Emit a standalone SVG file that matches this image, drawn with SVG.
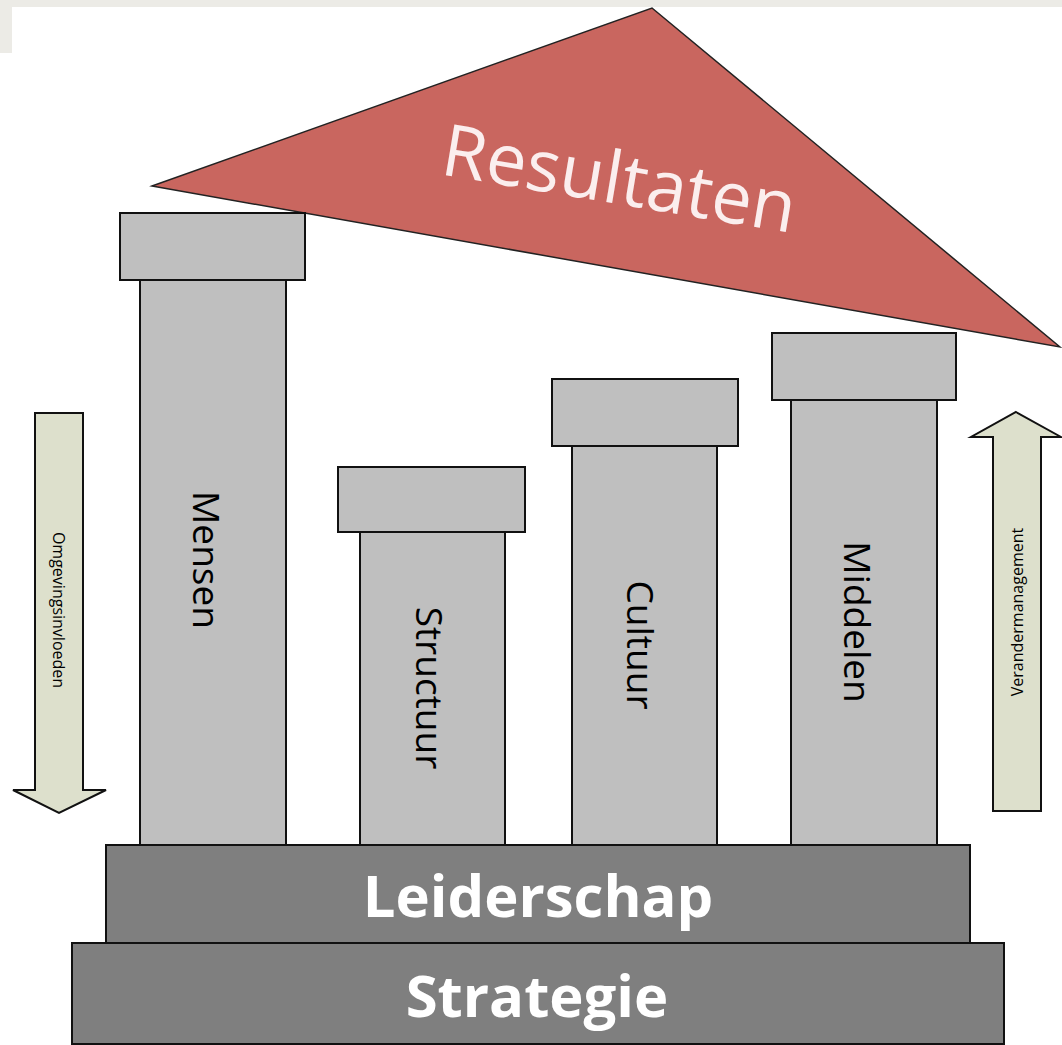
<svg xmlns="http://www.w3.org/2000/svg" width="1062" height="1045" viewBox="0 0 1062 1045">
  <style>
    .frame { fill: #ecebe6; }
    .col { fill: #bfbfbf; stroke: #111; stroke-width: 2; }
    .base { fill: #7f7f7f; stroke: #111; stroke-width: 2; }
    .arrow { fill: #dde0cc; stroke: #111; stroke-width: 2; stroke-linejoin: miter; }
    .roof { fill: #c9665f; stroke: #222; stroke-width: 1.5; stroke-linejoin: miter; }
    .lbl { font-family: "Open Sans", "Noto Sans", "Liberation Sans", sans-serif; fill: #000; text-anchor: middle; dominant-baseline: central; }
    .big { font-family: "Open Sans", "Noto Sans", "Liberation Sans", sans-serif; fill: #fff; font-weight: bold; text-anchor: middle; dominant-baseline: central; }
  </style>

  <rect width="1062" height="1045" fill="#fff"/>
  <rect class="frame" x="0" y="0" width="1062" height="7"/>
  <rect class="frame" x="0" y="0" width="12" height="53"/>

  <g id="roof">
    <polygon class="roof" points="152,186 652,8 1060,347"/>
    <text class="lbl" x="0" y="0" font-size="72" style="fill:#fbeeee" transform="translate(620,176) rotate(9.5)">Resultaten</text>
  </g>

  <g id="mensen">
    <rect class="col" x="140" y="280" width="146" height="565"/>
    <rect class="col" x="120" y="213" width="185" height="67"/>
    <text class="lbl" x="0" y="0" font-size="37" transform="translate(207,560) rotate(90)">Mensen</text>
  </g>

  <g id="structuur">
    <rect class="col" x="360" y="532" width="145" height="313"/>
    <rect class="col" x="338" y="467" width="187" height="65"/>
    <text class="lbl" x="0" y="0" font-size="37" transform="translate(430,688) rotate(90)">Structuur</text>
  </g>

  <g id="cultuur">
    <rect class="col" x="572" y="446" width="145" height="399"/>
    <rect class="col" x="552" y="379" width="186" height="67"/>
    <text class="lbl" x="0" y="0" font-size="37" transform="translate(641,645) rotate(90)">Cultuur</text>
  </g>

  <g id="middelen">
    <rect class="col" x="791" y="400" width="146" height="445"/>
    <rect class="col" x="772" y="333" width="184" height="67"/>
    <text class="lbl" x="0" y="0" font-size="37" transform="translate(858,622) rotate(90)">Middelen</text>
  </g>

  <g id="leiderschap">
    <rect class="base" x="106" y="845" width="864" height="98"/>
    <text class="big" x="538" y="894" font-size="58">Leiderschap</text>
  </g>

  <g id="strategie">
    <rect class="base" x="72" y="943" width="932" height="101"/>
    <text class="big" x="537" y="994" font-size="58">Strategie</text>
  </g>

  <g id="omgevingsinvloeden">
    <polygon class="arrow" points="35,413 83,413 83,790 106,790 59,813 13,790 35,790"/>
    <text class="lbl" x="0" y="0" font-size="16" transform="translate(59,610) rotate(90)">Omgevingsinvloeden</text>
  </g>

  <g id="verandermanagement">
    <polygon class="arrow" points="1016,412 1061,437 1041,437 1041,811 993,811 993,437 971,437"/>
    <text class="lbl" x="0" y="0" font-size="16" transform="translate(1017,612) rotate(-90)">Verandermanagement</text>
  </g>
</svg>
